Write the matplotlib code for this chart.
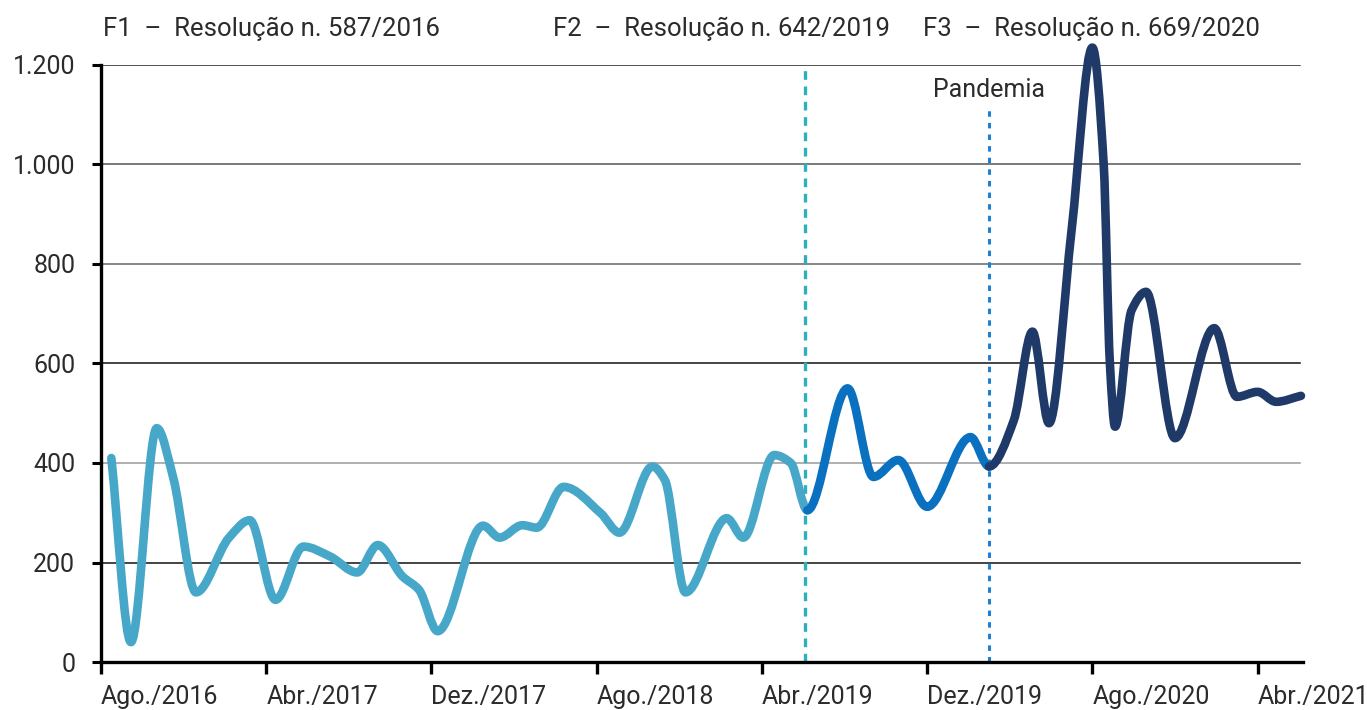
import numpy as np
import matplotlib
matplotlib.use("Agg")
import matplotlib.pyplot as plt
from matplotlib.path import Path
from matplotlib.patches import PathPatch

plt.rcParams['font.family'] = ['Roboto', 'DejaVu Sans']

# posição em meses desde Ago./2016 e valor
meses_f1 = [0.5, 1.45, 2.7, 3.5, 4.6, 6.2, 7.2, 8.45, 9.8, 11.1, 12.4, 13.4, 14.6, 15.4,
            16.3, 18.5, 19.3, 20.4, 21.1, 22.4, 24.2, 25.1, 26.7, 27.3, 28.3, 30.3,
            31.1, 32.6, 33.4, 34.2]
valores_f1 = [410, 40, 470, 370, 140, 250, 285, 125, 232, 212, 180, 235, 172, 145,
              62, 274, 250, 275, 270, 352, 299, 260, 393, 366, 140, 289,
              250, 416, 400, 305]

meses_f2 = [36.15, 37.4, 38.6, 40.0, 42.1, 43.0]
valores_f2 = [550, 372, 406, 312, 452, 393]

meses_f3 = [44.2, 45.1, 45.9, 47.0, 48.0, 48.55, 48.85, 49.1, 49.9, 50.6, 52.0, 53.9,
            55.0, 56.0, 56.9, 58.1]
valores_f3 = [486, 664, 480, 870, 1235, 1000, 600, 473, 707, 744, 450, 671,
              533, 543, 523, 535]

tick_meses = [0, 8, 16, 24, 32, 40, 48, 56]
tick_labels = ['Ago./2016', 'Abr./2017', 'Dez./2017', 'Ago./2018',
               'Abr./2019', 'Dez./2019', 'Ago./2020', 'Abr./2021']
y_ticks = [0, 200, 400, 600, 800, 1000, 1200]
y_labels = ['0', '200', '400', '600', '800', '1.000', '1.200']

marco_f2 = 34.1
marco_pandemia = 43.0

cor_f1 = '#47a7c9'
cor_f2 = '#0a70c0'
cor_f3 = '#1f3a68'
cor_texto = '#2b2b2b'


def pchip_slopes(x, y):
    h = np.diff(x)
    d = np.diff(y) / h
    m = np.zeros(len(x))
    m[0], m[-1] = d[0], d[-1]
    for k in range(1, len(x) - 1):
        if d[k - 1] * d[k] <= 0:
            m[k] = 0
        else:
            w1 = 2 * h[k] + h[k - 1]
            w2 = h[k] + 2 * h[k - 1]
            m[k] = (w1 + w2) / (w1 / d[k - 1] + w2 / d[k])
    return m


def smooth_path(x, y, m, i0, i1):
    verts = [(x[i0], y[i0])]
    codes = [Path.MOVETO]
    for k in range(i0, i1):
        h = x[k + 1] - x[k]
        verts += [(x[k] + h / 3, y[k] + m[k] * h / 3),
                  (x[k + 1] - h / 3, y[k + 1] - m[k + 1] * h / 3),
                  (x[k + 1], y[k + 1])]
        codes += [Path.CURVE4] * 3
    return Path(verts, codes)


x = np.array(meses_f1 + meses_f2 + meses_f3, dtype=float)
y = np.array(valores_f1 + valores_f2 + valores_f3, dtype=float)
slopes = pchip_slopes(x, y)
n1 = len(meses_f1)
n2 = n1 + len(meses_f2)

fig = plt.figure(figsize=(13.67, 7.10), dpi=100)
ax = fig.add_axes([101 / 1367, 48 / 710, 1202 / 1367, 597 / 710])
ax.set_xlim(0, 58.2)
ax.set_ylim(0, 1200)

grid_cores = {200: '#111111', 400: '#9a9a9a', 600: '#111111', 800: '#666666',
              1000: '#555555', 1200: '#222222'}
for v, c in grid_cores.items():
    ax.axhline(v, color=c, lw=1.1, zorder=1, xmax=1300 / 1303)

ax.plot([marco_f2, marco_f2], [0, 1200], color='#2bb0bf', lw=2.4,
        dashes=(2.6, 2.0), zorder=2)
ax.plot([marco_pandemia, marco_pandemia], [0, 1110], color='#2080d0', lw=2.2,
        dashes=(1.8, 2.0), zorder=2)
ax.text(marco_pandemia, 1150, 'Pandemia', ha='center', va='center',
        fontsize=18, color=cor_texto)

for (i0, i1, cor) in [(0, n1 - 1, cor_f1), (n1 - 1, n2 - 1, cor_f2), (n2 - 1, len(x) - 1, cor_f3)]:
    p = smooth_path(x, y, slopes, i0, i1)
    ax.add_patch(PathPatch(p, facecolor='none', edgecolor=cor, lw=6.2,
                           capstyle='round', joinstyle='round', zorder=3,
                           clip_on=False))

for s in ['top', 'right']:
    ax.spines[s].set_visible(False)
for s in ['left', 'bottom']:
    ax.spines[s].set_linewidth(2.4)
    ax.spines[s].set_color('black')

ax.set_yticks(y_ticks)
ax.set_yticklabels(y_labels)
ax.set_xticks(tick_meses)
ax.set_xticklabels(tick_labels, ha='left')
ax.tick_params(axis='y', length=6.5, width=2.2, pad=12, labelsize=18,
               labelcolor=cor_texto)
ax.tick_params(axis='x', length=8.6, width=2.4, pad=8, labelsize=18,
               labelcolor=cor_texto)

for xp, txt in [(103, 'F1  –  Resolução n. 587/2016'),
                (553, 'F2  –  Resolução n. 642/2019'),
                (923, 'F3  –  Resolução n. 669/2020')]:
    fig.text(xp / 1367, 1 - 36 / 710, txt, fontsize=18.5,
             color=cor_texto, va='baseline')

fig.savefig('out.png', dpi=100)
